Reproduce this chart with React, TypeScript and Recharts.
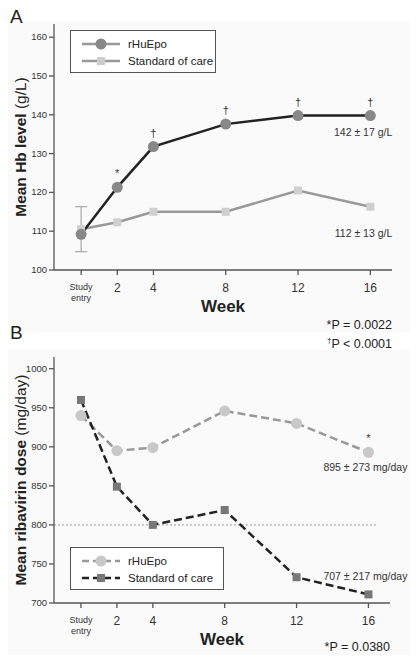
import React from 'react';
import { LineChart, Line, XAxis, YAxis, ErrorBar, LabelList, ReferenceLine, Legend } from 'recharts';

const weeks = [0, 2, 4, 8, 12, 16];
const hbEpo = [109.2, 121.3, 131.8, 137.6, 139.8, 139.8];
const hbSoc = [110.5, 112.3, 115, 115, 120.5, 116.3];
const hbSocErr = [5.8, null, null, null, null, null];
const hbSig = ['', '*', '†', '†', '†', '†'];
const hbEpoNote = ['', '', '', '', '', '142 ± 17 g/L'];
const hbSocNote = ['', '', '', '', '', '112 ± 13 g/L'];

const ribEpo = [940, 895, 899, 946, 930, 893];
const ribSoc = [960, 849, 800, 819, 733, 711];
const ribSig = ['', '', '', '', '', '*'];
const ribEpoNote = ['', '', '', '', '', '895 ± 273 mg/day'];
const ribSocNote = ['', '', '', '', '', '707 ± 217 mg/day'];

const hbTicks = [100, 110, 120, 130, 140, 150, 160];
const ribTicks = [700, 750, 800, 850, 900, 950, 1000];
const seriesNames = ['rHuEpo', 'Standard of care'];

const hbData = weeks.map((w, i) => ({
  week: w,
  epo: hbEpo[i],
  soc: hbSoc[i],
  err: hbSocErr[i],
  sig: hbSig[i],
  epoNote: hbEpoNote[i],
  socNote: hbSocNote[i],
}));
const ribData = weeks.map((w, i) => ({
  week: w,
  epo: ribEpo[i],
  soc: ribSoc[i],
  sig: ribSig[i],
  epoNote: ribEpoNote[i],
  socNote: ribSocNote[i],
}));

const FONT = '"Liberation Sans", Arial, Helvetica, sans-serif';

const XTick = (props: any) => {
  const { x, y, payload } = props;
  if (payload.value === 0) {
    return (
      <text x={x} y={y + 13} textAnchor="middle" fontSize={9} fill="#333" fontFamily={FONT}>
        <tspan x={x} dy={0}>Study</tspan>
        <tspan x={x} dy={11}>entry</tspan>
      </text>
    );
  }
  return (
    <text x={x} y={y + 15} textAnchor="middle" fontSize={12} fill="#333" fontFamily={FONT}>
      {payload.value}
    </text>
  );
};

const YTick = (props: any) => {
  const { x, y, payload } = props;
  return (
    <text x={x} y={y + 3} textAnchor="end" fontSize={9.5} fill="#333" fontFamily={FONT}>
      {payload.value}
    </text>
  );
};

const CircleDot = (fill: string) => (props: any) => {
  const { cx, cy, index } = props;
  if (cx == null || cy == null) return <g key={index} />;
  return <circle key={index} cx={cx} cy={cy} r={5.5} fill={fill} stroke="none" />;
};
const SquareDot = (fill: string) => (props: any) => {
  const { cx, cy, index } = props;
  if (cx == null || cy == null) return <g key={index} />;
  return <rect key={index} x={cx - 4} y={cy - 4} width={8} height={8} fill={fill} stroke="none" />;
};

const SigLabel = (props: any) => {
  const { x, y, value } = props;
  if (!value) return null;
  return (
    <text x={x} y={y - 10} textAnchor="middle" fontSize={11} fill="#333" fontFamily={FONT}>
      {value}
    </text>
  );
};

const NoteLabel = (dx: number, dy: number) => (props: any) => {
  const { x, y, value } = props;
  if (!value) return null;
  return (
    <text x={x + dx} y={y + dy} textAnchor="end" fontSize={10.5} fill="#333" fontFamily={FONT}>
      {value}
    </text>
  );
};

const YLabel = (bold: string, normal: string) => (props: any) => {
  const { viewBox } = props;
  const cx = 20;
  const cy = viewBox.y + viewBox.height / 2;
  return (
    <text
      x={cx}
      y={cy}
      transform={`rotate(-90, ${cx}, ${cy})`}
      textAnchor="middle"
      dominantBaseline="central"
      fontSize={15.5}
      fill="#222"
      fontFamily={FONT}
    >
      <tspan fontWeight="bold">{bold}</tspan>
      <tspan> {normal}</tspan>
    </text>
  );
};

const WeekLabel = (props: any) => {
  const { viewBox } = props;
  const cx = viewBox.x + viewBox.width / 2;
  return (
    <text x={cx} y={viewBox.y + 42} textAnchor="middle" fontSize={17} fontWeight="bold" fill="#222" fontFamily={FONT}>
      Week
    </text>
  );
};

const LegendBox = (width: number, dashed: boolean, c1: any, c2: any) => () => (
  <svg width={width} height={44} style={{ display: 'block' }}>
    <rect x={0.5} y={0.5} width={width - 1} height={42} fill="#fff" stroke="#555" strokeWidth={1} />
    <line x1={12} x2={50} y1={14} y2={14} stroke={c1.line} strokeWidth={2.5} strokeDasharray={dashed ? '7 4' : undefined} />
    <circle cx={31} cy={14} r={5.5} fill={c1.dot} />
    <text x={58} y={18} fontSize={11.5} fill="#222" fontFamily={FONT}>{seriesNames[0]}</text>
    <line x1={12} x2={50} y1={31} y2={31} stroke={c2.line} strokeWidth={2.5} strokeDasharray={dashed ? '7 4' : undefined} />
    <rect x={27} y={27} width={8} height={8} fill={c2.dot} />
    <text x={58} y={35} fontSize={11.5} fill="#222" fontFamily={FONT}>{seriesNames[1]}</text>
  </svg>
);

const textStyle: React.CSSProperties = {
  position: 'absolute',
  fontFamily: FONT,
  color: '#222',
  whiteSpace: 'nowrap',
};

export default function App() {
  return (
    <div style={{ position: 'absolute', left: 0, top: 0, width: 416, height: 657, background: '#fff', overflow: 'hidden' }}>
      <div style={{ position: 'absolute', left: 8, top: 22, width: 402, height: 310, background: '#fafafa' }} />
      <div style={{ position: 'absolute', left: 8, top: 350, width: 402, height: 305, background: '#fafafa' }} />
      <div style={{ ...textStyle, left: 10, top: 6, fontSize: 19 }}>A</div>
      <div style={{ ...textStyle, left: 10, top: 322, fontSize: 19 }}>B</div>

      <div style={{ position: 'absolute', left: 0, top: 0 }}>
        <LineChart width={416} height={320} data={hbData} margin={{ top: 24, right: 24, bottom: 20, left: 14 }}>
          <XAxis
            dataKey="week"
            type="number"
            domain={[-1.5, 17.2]}
            ticks={weeks}
            tick={<XTick />}
            tickSize={5}
            stroke="#555"
            strokeWidth={1.3}
            height={30}
            allowDataOverflow
            label={{ content: WeekLabel }}
          />
          <YAxis
            type="number"
            domain={[100, 163.4]}
            ticks={hbTicks}
            tick={<YTick />}
            tickSize={5}
            stroke="#555"
            strokeWidth={1.3}
            width={40}
            allowDataOverflow
            label={{ content: YLabel('Mean Hb level', '(g/L)') }}
          />
          <Legend
            layout="vertical"
            align="center"
            verticalAlign="middle"
            content={LegendBox(146, false, { line: '#999', dot: '#888' }, { line: '#999', dot: '#ccc' })}
            wrapperStyle={{ position: 'absolute', left: 70, top: 30, width: 146, height: 44 }}
          />
          <Line
            dataKey="soc"
            name={seriesNames[1]}
            stroke="#999"
            strokeWidth={2.5}
            dot={SquareDot('#cfcfcf')}
            activeDot={false}
            isAnimationActive={false}
          >
            <ErrorBar dataKey="err" direction="y" width={6} stroke="#999" strokeWidth={1} />
            <LabelList dataKey="socNote" content={NoteLabel(22, 30)} />
          </Line>
          <Line
            dataKey="epo"
            name={seriesNames[0]}
            stroke="#222"
            strokeWidth={2.5}
            dot={CircleDot('#888')}
            activeDot={false}
            isAnimationActive={false}
          >
            <LabelList dataKey="sig" content={SigLabel} />
            <LabelList dataKey="epoNote" content={NoteLabel(22, 20)} />
          </Line>
        </LineChart>
      </div>

      <div style={{ ...textStyle, right: 24, top: 318, fontSize: 12.5, textAlign: 'right', lineHeight: '15px' }}>
        <div>*P = 0.0022</div>
        <div><sup style={{ fontSize: 8 }}>†</sup>P &lt; 0.0001</div>
      </div>

      <div style={{ position: 'absolute', left: 0, top: 330 }}>
        <LineChart width={416} height={327} data={ribData} margin={{ top: 27, right: 26, bottom: 24, left: 14 }}>
          <XAxis
            dataKey="week"
            type="number"
            domain={[-1.5, 17.2]}
            ticks={weeks}
            tick={<XTick />}
            tickSize={5}
            stroke="#555"
            strokeWidth={1.3}
            height={30}
            allowDataOverflow
            label={{ content: WeekLabel }}
          />
          <YAxis
            type="number"
            domain={[700, 1015]}
            ticks={ribTicks}
            tick={<YTick />}
            tickSize={5}
            stroke="#555"
            strokeWidth={1.3}
            width={40}
            allowDataOverflow
            label={{ content: YLabel('Mean ribavirin dose', '(mg/day)') }}
          />
          <ReferenceLine
            segment={[{ x: -1.5, y: 800 }, { x: 16.5, y: 800 }]}
            stroke="#888"
            strokeWidth={0.8}
            strokeDasharray="2 2"
          />
          <Legend
            layout="vertical"
            align="center"
            verticalAlign="middle"
            content={LegendBox(154, true, { line: '#999', dot: '#c8c8c8' }, { line: '#222', dot: '#777' })}
            wrapperStyle={{ position: 'absolute', left: 70, top: 217, width: 154, height: 44 }}
          />
          <Line
            dataKey="epo"
            name={seriesNames[0]}
            stroke="#999"
            strokeWidth={2.5}
            strokeDasharray="8 4"
            dot={CircleDot('#c8c8c8')}
            activeDot={false}
            isAnimationActive={false}
          >
            <LabelList dataKey="sig" content={SigLabel} />
            <LabelList dataKey="epoNote" content={NoteLabel(39, 19)} />
          </Line>
          <Line
            dataKey="soc"
            name={seriesNames[1]}
            stroke="#222"
            strokeWidth={2.5}
            strokeDasharray="8 4"
            dot={SquareDot('#777')}
            activeDot={false}
            isAnimationActive={false}
          >
            <LabelList dataKey="socNote" content={NoteLabel(39, -14)} />
          </Line>
        </LineChart>
      </div>

      <div style={{ ...textStyle, right: 26, top: 640, fontSize: 12.5, textAlign: 'right' }}>*P = 0.0380</div>
    </div>
  );
}
